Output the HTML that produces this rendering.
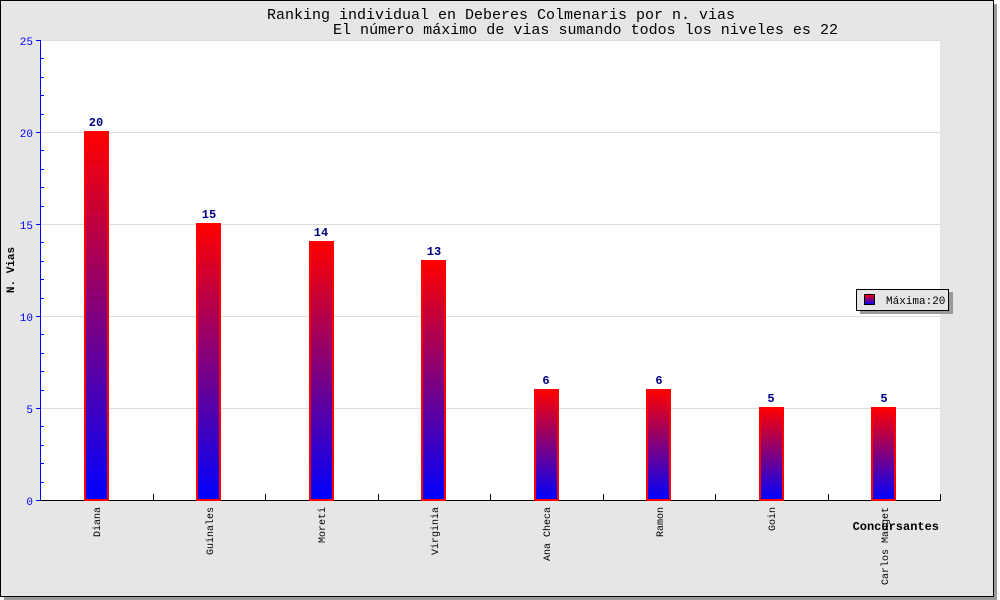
<!DOCTYPE html>
<html><head><meta charset="utf-8"><style>
html,body{margin:0;padding:0;background:#fff;}
svg{display:block;font-family:"Liberation Mono",monospace;}
</style></head><body>
<svg width="1000" height="600" viewBox="0 0 1000 600" xmlns="http://www.w3.org/2000/svg">
<defs>
<linearGradient id="g" x1="0" y1="0" x2="0" y2="1">
<stop offset="0" stop-color="#ff0000"/><stop offset="1" stop-color="#0000ff"/>
</linearGradient>
</defs>
<rect x="0" y="0" width="1000" height="600" fill="#ffffff"/>
<rect x="4" y="4" width="993" height="596" fill="#9a9a9a"/>
<rect x="0.5" y="0.5" width="993" height="596" fill="#e6e6e6" stroke="#000" stroke-width="1"/>
<rect x="40" y="40" width="900" height="460" fill="#fff"/>
<g stroke="#dddddd" stroke-width="1">
<line x1="40" y1="40.5" x2="940" y2="40.5"/>
<line x1="40" y1="132.5" x2="940" y2="132.5"/>
<line x1="40" y1="224.5" x2="940" y2="224.5"/>
<line x1="40" y1="316.5" x2="940" y2="316.5"/>
<line x1="40" y1="408.5" x2="940" y2="408.5"/>
</g>
<text x="267" y="19" font-size="14.5" fill="#000" textLength="468" lengthAdjust="spacingAndGlyphs">Ranking individual en Deberes Colmenaris por n. vias</text>
<text x="333" y="34" font-size="14.5" fill="#000" textLength="505" lengthAdjust="spacingAndGlyphs">El número máximo de vias sumando todos los niveles es 22</text>
<g stroke="#0000ff" stroke-width="1">
<line x1="40.5" y1="40" x2="40.5" y2="500"/>
<line x1="36" y1="40.5" x2="40" y2="40.5"/><line x1="36" y1="132.5" x2="40" y2="132.5"/><line x1="36" y1="224.5" x2="40" y2="224.5"/><line x1="36" y1="316.5" x2="40" y2="316.5"/><line x1="36" y1="408.5" x2="40" y2="408.5"/><line x1="36" y1="500.5" x2="40" y2="500.5"/>
<line x1="40" y1="58.5" x2="44" y2="58.5"/><line x1="40" y1="77.5" x2="44" y2="77.5"/><line x1="40" y1="95.5" x2="44" y2="95.5"/><line x1="40" y1="114.5" x2="44" y2="114.5"/>
<line x1="40" y1="150.5" x2="44" y2="150.5"/><line x1="40" y1="169.5" x2="44" y2="169.5"/><line x1="40" y1="187.5" x2="44" y2="187.5"/><line x1="40" y1="206.5" x2="44" y2="206.5"/>
<line x1="40" y1="242.5" x2="44" y2="242.5"/><line x1="40" y1="261.5" x2="44" y2="261.5"/><line x1="40" y1="279.5" x2="44" y2="279.5"/><line x1="40" y1="298.5" x2="44" y2="298.5"/>
<line x1="40" y1="334.5" x2="44" y2="334.5"/><line x1="40" y1="353.5" x2="44" y2="353.5"/><line x1="40" y1="371.5" x2="44" y2="371.5"/><line x1="40" y1="390.5" x2="44" y2="390.5"/>
<line x1="40" y1="426.5" x2="44" y2="426.5"/><line x1="40" y1="445.5" x2="44" y2="445.5"/><line x1="40" y1="463.5" x2="44" y2="463.5"/><line x1="40" y1="482.5" x2="44" y2="482.5"/>
</g>
<g fill="#0000ff" font-size="11" text-anchor="end">
<text x="33" y="45">25</text><text x="33" y="137">20</text><text x="33" y="229">15</text><text x="33" y="321">10</text><text x="33" y="413">5</text><text x="33" y="505">0</text>
</g>
<text transform="translate(14,270) rotate(-90)" font-size="11" font-weight="bold" text-anchor="middle">N. Vias</text>
<g stroke="#000" stroke-width="1">
<line x1="40" y1="500.5" x2="941" y2="500.5"/>
<line x1="153.5" y1="494" x2="153.5" y2="500"/><line x1="265.5" y1="494" x2="265.5" y2="500"/><line x1="378.5" y1="494" x2="378.5" y2="500"/><line x1="490.5" y1="494" x2="490.5" y2="500"/><line x1="603.5" y1="494" x2="603.5" y2="500"/><line x1="715.5" y1="494" x2="715.5" y2="500"/><line x1="828.5" y1="494" x2="828.5" y2="500"/><line x1="940.5" y1="494" x2="940.5" y2="500"/>
</g>
<g stroke="#ff0000" stroke-width="2" fill="url(#g)">
<rect x="85" y="132" width="23" height="368"/>
<rect x="197" y="224" width="23" height="276"/>
<rect x="310" y="242" width="23" height="258"/>
<rect x="422" y="261" width="23" height="239"/>
<rect x="535" y="390" width="23" height="110"/>
<rect x="647" y="390" width="23" height="110"/>
<rect x="760" y="408" width="23" height="92"/>
<rect x="872" y="408" width="23" height="92"/>
</g>
<g fill="#000080" font-size="12" font-weight="bold" text-anchor="middle">
<text x="96" y="126">20</text><text x="209" y="218">15</text><text x="321" y="236">14</text><text x="434" y="255">13</text><text x="546" y="384">6</text><text x="659" y="384">6</text><text x="771" y="402">5</text><text x="884" y="402">5</text>
</g>
<g font-size="10" fill="#000" text-anchor="end">
<text transform="translate(100,507) rotate(-90)">Diana</text>
<text transform="translate(213,507) rotate(-90)">Guinales</text>
<text transform="translate(325,507) rotate(-90)">Moreti</text>
<text transform="translate(438,507) rotate(-90)">Virginia</text>
<text transform="translate(550,507) rotate(-90)">Ana Checa</text>
<text transform="translate(663,507) rotate(-90)">Ramon</text>
<text transform="translate(775,507) rotate(-90)">Goin</text>
<text transform="translate(888,507) rotate(-90)">Carlos Manget</text>
</g>
<text x="939" y="530" font-size="12" font-weight="bold" text-anchor="end">Concursantes</text>
<rect x="860" y="292" width="93" height="22" fill="#999"/>
<rect x="856.5" y="289.5" width="92" height="21" fill="#e6e6e6" stroke="#000"/>
<rect x="864.5" y="294.5" width="10" height="10" fill="url(#g)" stroke="#000"/>
<text x="886" y="304" font-size="11">Máxima:20</text>
</svg>
</body></html>
